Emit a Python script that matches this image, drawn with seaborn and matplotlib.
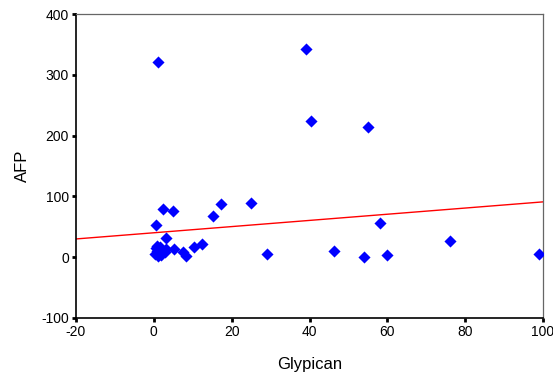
import numpy as np
import pandas as pd
import matplotlib
matplotlib.use("Agg")
import matplotlib.pyplot as plt
import seaborn as sns

# values
glypican = [1.0, 39.0, 40.3, 55.0, 0.5, 2.3, 4.9, 15.1, 17.2, 25.0,
            58.0, 76.0, 99.0, 46.4, 29.2, 54.0, 60.0, 3.2,
            0.8, 1.5, 2.2, 3.0, 0.3, 1.2, 2.8, 0.9, 1.8, 0.5,
            5.1, 7.5, 8.2, 10.2, 12.3]
afp = [321, 342, 224, 214, 53, 79, 76, 67, 87, 89,
       56, 26, 5, 10, 5, 0, 3, 32,
       10, 16, 12, 14, 5, 2, 8, 18, 4, 15,
       13, 8, 2, 17, 22]

# fitted line as drawn in the reference
fit_x = [-20, 100]
fit_y = [30, 91]

df = pd.DataFrame({"Glypican": glypican, "AFP": afp})

sns.set_theme(style="white")
plt.rcParams["font.family"] = ["Liberation Sans", "DejaVu Sans"]
plt.rcParams["axes.unicode_minus"] = False

fig = plt.figure(figsize=(5.53, 3.79), dpi=100)
ax = fig.add_axes([0.1374, 0.161, 0.8446, 0.802])

sns.scatterplot(data=df, x="Glypican", y="AFP", marker="D", s=38,
                color="#0000ff", edgecolor="#0000ff", linewidth=0, ax=ax, zorder=3)
sns.lineplot(x=fit_x, y=fit_y, color="#ff0000", linewidth=1.0, ax=ax, zorder=2)

ax.set_xlim(-20, 100)
ax.set_ylim(-100, 400)
ax.set_xticks(range(-20, 101, 20))
ax.set_yticks(range(-100, 401, 100))

for side in ["left", "bottom"]:
    ax.spines[side].set_color("black")
    ax.spines[side].set_linewidth(1.2)
for side in ["top", "right"]:
    ax.spines[side].set_color("#666666")
    ax.spines[side].set_linewidth(0.9)

ax.tick_params(axis="both", direction="out", length=3, width=2, color="black",
               labelsize=10, labelcolor="black", pad=2, bottom=True, left=True)
ax.set_xlabel("Glypican", fontsize=12, labelpad=13, color="black")
ax.set_ylabel("AFP", fontsize=12, labelpad=8, color="black")

fig.savefig("out.png", dpi=100)
